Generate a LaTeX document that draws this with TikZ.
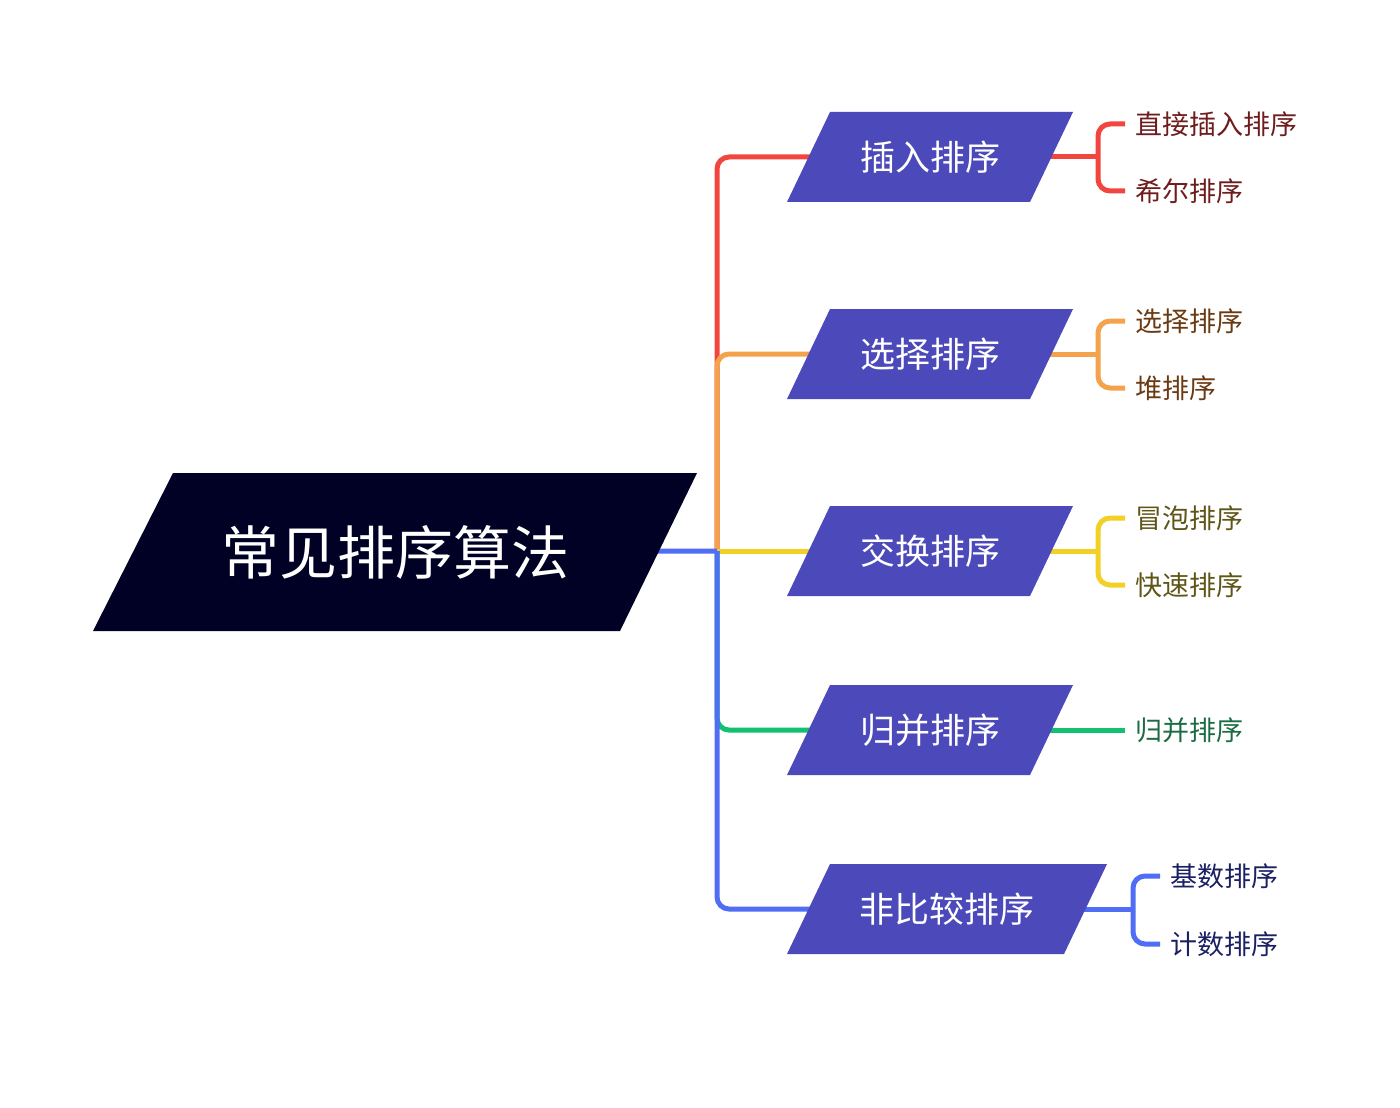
\documentclass[tikz,border=0pt]{standalone}
\usepackage{fontspec}
\setmainfont{Noto Sans CJK SC}
\usetikzlibrary{calc}
\pgfdeclarelayer{lines}
\pgfdeclarelayer{shapes}
\pgfsetlayers{lines,shapes,main}
\definecolor{cred}{HTML}{F2453D}
\definecolor{corange}{HTML}{F4A24C}
\definecolor{cyellow}{HTML}{F2D026}
\definecolor{cgreen}{HTML}{12C070}
\definecolor{cblue}{HTML}{4F6DF5}
\definecolor{childfill}{HTML}{4C49BA}
\definecolor{rootfill}{HTML}{010125}
\definecolor{tred}{HTML}{6E1C1C}
\definecolor{torange}{HTML}{6A3A12}
\definecolor{tyellow}{HTML}{5E5516}
\definecolor{tgreen}{HTML}{1B6B45}
\definecolor{tblue}{HTML}{1A2062}
\tikzset{
  roottext/.style={text=white, font=\fontsize{29}{34}\selectfont, inner sep=0pt},
  childtext/.style={text=white, font=\fontsize{17.5}{21}\selectfont, inner sep=0pt},
  leaftext/.style={anchor=west, font=\fontsize{13.5}{16}\selectfont, inner xsep=5pt, inner ysep=0pt},
  conn/.style={line width=2.5pt},
  bracket/.style={line width=2.5pt, rounded corners=6pt},
}
\begin{document}
\begin{tikzpicture}[x=0.5pt,y=-0.5pt]
\useasboundingbox (0,0) rectangle (1400,1107);
% nodes
\node[roottext] (root) at (395,552) {常见排序算法};
\node[childtext] (n1) at (930,157) {插入排序};
\node[childtext] (n2) at (930,354) {选择排序};
\node[childtext] (n3) at (930,551) {交换排序};
\node[childtext] (n4) at (930,730) {归并排序};
\node[childtext] (n5) at (947,909) {非比较排序};
\coordinate (hub) at (717,551);
% leaves
\node[leaftext, text=tred] (l11) at (1125,124) {直接插入排序};
\node[leaftext, text=tred] (l12) at (1125,191) {希尔排序};
\node[leaftext, text=torange] (l21) at (1125,321) {选择排序};
\node[leaftext, text=torange] (l22) at (1125,388) {堆排序};
\node[leaftext, text=tyellow] (l31) at (1125,518) {冒泡排序};
\node[leaftext, text=tyellow] (l32) at (1125,585) {快速排序};
\node[leaftext, text=tgreen] (l41) at (1125,730) {归并排序};
\node[leaftext, text=tblue] (l51) at (1160,876) {基数排序};
\node[leaftext, text=tblue] (l52) at (1160,944) {计数排序};
\coordinate (j1) at (1098,157);
\coordinate (j2) at (1098,354);
\coordinate (j3) at (1098,551);
\coordinate (j5) at (1133,909);
% shapes
\begin{pgfonlayer}{shapes}
\fill[rootfill] ($(root.center)+(-302,79)$) -- ($(root.center)+(225,79)$) -- ($(root.center)+(302,-79)$) -- ($(root.center)+(-222,-79)$) -- cycle;
\foreach \n in {n1,n2,n3,n4}{
  \fill[childfill] ($(\n.center)+(-143,45)$) -- ($(\n.center)+(100,45)$) -- ($(\n.center)+(143,-45)$) -- ($(\n.center)+(-100,-45)$) -- cycle;
}
\fill[childfill] ($(n5.center)+(-160,45)$) -- ($(n5.center)+(117,45)$) -- ($(n5.center)+(160,-45)$) -- ($(n5.center)+(-117,-45)$) -- cycle;
\end{pgfonlayer}
% connectors
\begin{pgfonlayer}{lines}
\draw[conn, cred, rounded corners=6pt] (hub) |- (n1.center);
\draw[conn, corange, rounded corners=6pt] (hub) |- (n2.center);
\draw[conn, cyellow] (hub) -- (n3.center);
\draw[conn, cgreen, rounded corners=6pt] (hub) |- (n4.center);
\draw[conn, cblue] (root.center) -- (hub);
\draw[conn, cblue, rounded corners=6pt] (hub) |- (n5.center);
% right side
\draw[conn, cred] (n1.center) -- (j1);
\draw[bracket, cred] (j1) |- (l11.west);
\draw[bracket, cred] (j1) |- (l12.west);
\draw[conn, corange] (n2.center) -- (j2);
\draw[bracket, corange] (j2) |- (l21.west);
\draw[bracket, corange] (j2) |- (l22.west);
\draw[conn, cyellow] (n3.center) -- (j3);
\draw[bracket, cyellow] (j3) |- (l31.west);
\draw[bracket, cyellow] (j3) |- (l32.west);
\draw[conn, cgreen] (n4.center) -- (l41.west);
\draw[conn, cblue] (n5.center) -- (j5);
\draw[bracket, cblue] (j5) |- (l51.west);
\draw[bracket, cblue] (j5) |- (l52.west);
\end{pgfonlayer}
\end{tikzpicture}
\end{document}
